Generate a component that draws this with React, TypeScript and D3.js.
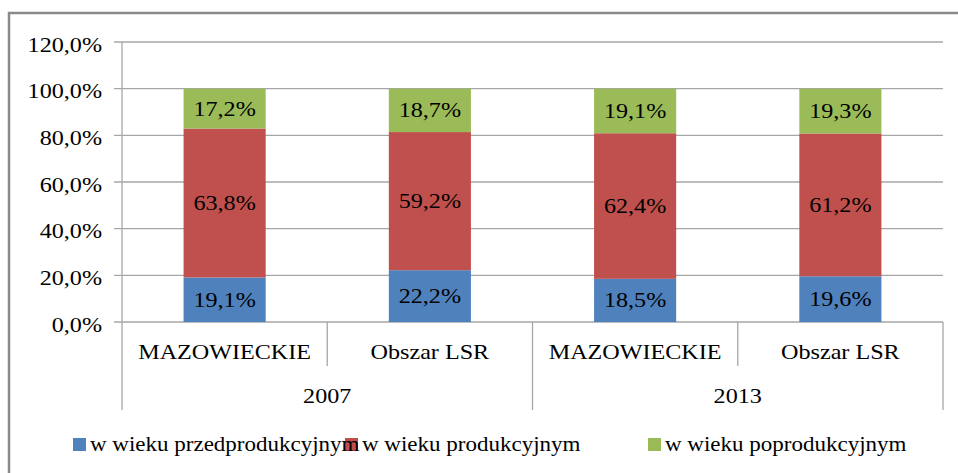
import React from "react";
import * as d3 from "d3";

const years = ["2007", "2013"];
const regions = ["MAZOWIECKIE", "Obszar LSR"];
const seriesNames = ["w wieku przedprodukcyjnym", "w wieku produkcyjnym", "w wieku poprodukcyjnym"];
const seriesColors = ["#4F81BD", "#C0504D", "#9BBB59"];
const preProd = [19.1, 22.2, 18.5, 19.6];
const prod = [63.8, 59.2, 62.4, 61.2];
const postProd = [17.2, 18.7, 19.1, 19.3];
const yTicks = [0, 20, 40, 60, 80, 100, 120];

const W = 958;
const H = 473;
const SX = 1.15;
const CSS = `.lbl { font-family: "Tinos", "Liberation Serif", "Times New Roman", serif; font-size: 21px; fill: #000; }
.lbl.small { font-size: 20px; }`;

export default function App() {
  const left = 122;
  const right = 943;
  const top = 42;
  const bottom = 322;
  const cats = years.flatMap((yr) => regions.map((r) => `${yr}|${r}`));
  const x = d3.scaleBand().domain(cats).range([left, right]).paddingInner(0).paddingOuter(0);
  const y = d3.scaleLinear().domain([0, 120]).range([bottom, top]);
  const barW = x.bandwidth() * 0.4;

  const rows = cats.map((c, i) => ({ key: c, v: [preProd[i], prod[i], postProd[i]] }));
  const stack = d3.stack<any>().keys(["0", "1", "2"]).value((d: any, k: string) => d.v[+k]);
  const stacked = stack(rows as any);
  const fmt = (v: number) => v.toFixed(1).replace(".", ",") + "%";
  const tr = (tx: number, ty: number) => `translate(${tx},${ty}) scale(${SX},1)`;

  const legendX = [73, 345, 648];

  return (
    <svg width={W} height={H} style={{ position: "absolute", left: 0, top: 0 }}>
      <style>{CSS}</style>
      <rect x={0} y={0} width={W} height={H} fill="#fff" />
      <rect x={9} y={13} width={1200} height={800} fill="none" stroke="#8a8a8a" strokeWidth={2.5} />
      {yTicks.map((t) => (
        <line key={"g" + t} x1={114} x2={right} y1={y(t)} y2={y(t)} stroke="#a6a6a6" strokeWidth={1.3} />
      ))}
      {yTicks.map((t) => (
        <text key={"t" + t} className="lbl" transform={tr(102, y(t) + 9.5)} textAnchor="end">
          {fmt(t)}
        </text>
      ))}
      <line x1={left} x2={left} y1={top} y2={410} stroke="#a6a6a6" strokeWidth={1.3} />
      {cats.map((c, i) => {
        const xe = (x(c) as number) + x.bandwidth();
        const long = i % 2 === 1;
        return <line key={c} x1={xe} x2={xe} y1={bottom} y2={long ? 410 : 366} stroke="#a6a6a6" strokeWidth={1.3} />;
      })}
      {stacked.map((s, si) =>
        s.map((d, i) => {
          const bx = (x(cats[i]) as number) + (x.bandwidth() - barW) / 2;
          const y0 = y(Math.min(d[0], 100));
          const y1 = y(Math.min(d[1], 100));
          return <rect key={`r${si}-${i}`} x={bx} y={y1} width={barW} height={y0 - y1} fill={seriesColors[si]} />;
        })
      )}
      {stacked.map((s, si) =>
        s.map((d, i) => {
          const cx = (x(cats[i]) as number) + x.bandwidth() / 2;
          const y0 = y(Math.min(d[0], 100));
          const y1 = y(Math.min(d[1], 100));
          return (
            <text key={`l${si}-${i}`} className="lbl" transform={tr(cx, (y0 + y1) / 2 + 7)} textAnchor="middle">
              {fmt(rows[i].v[si])}
            </text>
          );
        })
      )}
      {cats.map((c, i) => (
        <text key={"c" + c} className="lbl" transform={tr((x(c) as number) + x.bandwidth() / 2, 359)} textAnchor="middle">
          {regions[i % 2]}
        </text>
      ))}
      {years.map((yr, i) => (
        <text key={yr} className="lbl" transform={tr(left + (right - left) * (i * 0.5 + 0.25), 403)} textAnchor="middle">
          {yr}
        </text>
      ))}
      {seriesNames.map((n, i) => (
        <rect key={"s" + n} x={legendX[i]} y={438} width={13} height={13} fill={seriesColors[i]} />
      ))}
      {seriesNames.map((n, i) => (
        <text key={"n" + n} className="lbl small" transform={tr(legendX[i] + 17, 451)}>
          {n}
        </text>
      ))}
    </svg>
  );
}
